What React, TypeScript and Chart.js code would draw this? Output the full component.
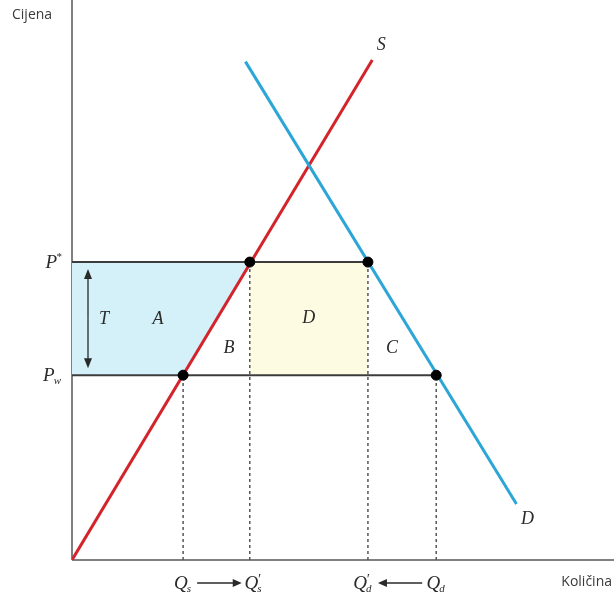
import React, { useEffect, useRef } from "react";
import { Chart, registerables } from "chart.js";

Chart.register(...registerables);

// ---- data (economic units) ----
const xMax = 100;
const yMax = 100;
const supplyX = [0, 55.4];
const supplyY = [0, 89.3];
const demandX = [32, 82];
const demandY = [89, 10];
const pStar = 53.2;
const pWorld = 33;
const qS = 20.5;
const qSPrime = 32.8;
const qDPrime = 54.6;
const qD = 67.2;
const axisTitleY = "Cijena";
const axisTitleX = "Količina";
const areaLabels = ["A", "B", "D", "C"];

const RED = "#d3232b";
const BLUE = "#2ba6d6";
const DARK = "#3c3c3c";
const AXIS = "#808080";

const SERIF = "'Liberation Serif', 'DejaVu Serif', serif";
const SANS = "'Open Sans', 'DejaVu Sans', sans-serif";

function drawArrow(ctx: CanvasRenderingContext2D, x1: number, y1: number, x2: number, y2: number, head = 8, headW = 4) {
  const ang = Math.atan2(y2 - y1, x2 - x1);
  ctx.beginPath();
  ctx.moveTo(x1, y1);
  ctx.lineTo(x2 - Math.cos(ang) * head * 0.6, y2 - Math.sin(ang) * head * 0.6);
  ctx.stroke();
  ctx.beginPath();
  ctx.moveTo(x2, y2);
  ctx.lineTo(x2 - Math.cos(ang) * head + Math.sin(ang) * headW, y2 - Math.sin(ang) * head - Math.cos(ang) * headW);
  ctx.lineTo(x2 - Math.cos(ang) * head - Math.sin(ang) * headW, y2 - Math.sin(ang) * head + Math.cos(ang) * headW);
  ctx.closePath();
  ctx.fill();
}

function drawSym(ctx: CanvasRenderingContext2D, base: string, sub: string, sup: string, cx: number, cy: number, align: "center" | "right" = "center") {
  ctx.save();
  ctx.textBaseline = "alphabetic";
  ctx.textAlign = "left";
  const bigFont = `italic 19px ${SERIF}`;
  const smallFont = `italic 11px ${SERIF}`;
  const supFont = `italic 14px ${SERIF}`;
  ctx.font = bigFont;
  const wb = ctx.measureText(base).width;
  ctx.font = smallFont;
  const ws = Math.max(sub ? ctx.measureText(sub).width : 0, sup ? 5 : 0);
  const total = wb + ws;
  const x0 = align === "center" ? cx - total / 2 : cx - total;
  const baseY = cy + 6;
  ctx.font = bigFont;
  ctx.fillText(base, x0, baseY);
  ctx.font = smallFont;
  if (sub) ctx.fillText(sub, x0 + wb - 1, baseY + 3);
  if (sup) {
    ctx.font = sup === "*" ? smallFont : supFont;
    ctx.fillText(sup === "'" ? "\u2032" : sup, x0 + wb - 1, sup === "*" ? baseY - 8 : baseY - 5);
  }
  ctx.restore();
}

const annotations = {
  id: "annotations",
  afterDraw(chart: any) {
    const ctx: CanvasRenderingContext2D = chart.ctx;
    const xs = chart.scales.x;
    const ys = chart.scales.y;
    const px = (v: number) => xs.getPixelForValue(v);
    const py = (v: number) => ys.getPixelForValue(v);
    const x0 = px(0);
    const y0 = py(0);
    const yTop = py(pStar);
    const yW = py(pWorld);
    const yMid = (yTop + yW) / 2;

    ctx.save();
    ctx.strokeStyle = "#2a2a2a";

    // axis titles
    ctx.font = `14px ${SANS}`;
    ctx.textBaseline = "middle";
    ctx.textAlign = "left";
    ctx.fillStyle = "#3a3a3a";
    ctx.fillText(axisTitleY, 12, 15);
    ctx.textAlign = "right";
    ctx.fillText(axisTitleX, 612, y0 + 22);

    ctx.fillStyle = "#2a2a2a";
    // price labels
    drawSym(ctx, "P", "", "*", x0 - 10, yTop, "right");
    drawSym(ctx, "P", "w", "", x0 - 10, yW, "right");

    // quantity labels
    const ly = y0 + 23;
    drawSym(ctx, "Q", "s", "", px(qS), ly);
    drawSym(ctx, "Q", "s", "'", px(qSPrime) + 4, ly);
    drawSym(ctx, "Q", "d", "'", px(qDPrime) - 5, ly);
    drawSym(ctx, "Q", "d", "", px(qD), ly);
    ctx.lineWidth = 1.5;
    drawArrow(ctx, px(qS) + 14, ly, px(qSPrime) - 8, ly, 9, 4);
    drawArrow(ctx, px(qD) - 14, ly, px(qDPrime) + 10, ly, 9, 4);

    // tariff arrow T
    ctx.lineWidth = 1.3;
    const tx = x0 + 16;
    drawArrow(ctx, tx, yMid, tx, yTop + 7, 10, 4);
    drawArrow(ctx, tx, yMid, tx, yW - 7, 10, 4);

    ctx.font = `italic 18px ${SERIF}`;
    ctx.textAlign = "center";
    ctx.textBaseline = "middle";
    ctx.fillText("T", x0 + 32, yMid + 1);
    ctx.fillText(areaLabels[0], px(qS) - 25, yMid + 1);
    ctx.fillText(areaLabels[1], px(qS) + 46, yW - 27);
    ctx.fillText(areaLabels[2], (px(qSPrime) + px(qDPrime)) / 2, yMid);
    ctx.fillText(areaLabels[3], px(qDPrime) + 24, yW - 27);

    // curve labels
    ctx.fillText("S", px(supplyX[1]) + 9, py(supplyY[1]) - 15);
    ctx.fillText("D", px(demandX[1]) + 11, py(demandY[1]) + 15);
    ctx.restore();
  },
};

const line = (data: { x: number; y: number }[], color: string, width: number, extra: any = {}) => ({
  type: "line" as const,
  data,
  borderColor: color,
  borderWidth: width,
  pointRadius: 0,
  fill: false,
  tension: 0,
  ...extra,
});

export default function App() {
  const ref = useRef<HTMLCanvasElement | null>(null);

  useEffect(() => {
    if (!ref.current) return;
    const pts = [
      { x: qS, y: pWorld },
      { x: qSPrime, y: pStar },
      { x: qDPrime, y: pStar },
      { x: qD, y: pWorld },
    ];
    const dashed = pts.map((p) =>
      line([{ x: p.x, y: 0 }, { x: p.x, y: p.y }], "#555555", 1.5, { borderDash: [3, 3] })
    );
    const chart = new Chart(ref.current, {
      type: "line",
      data: {
        datasets: [
          {
            type: "scatter" as const,
            data: pts,
            pointRadius: 5,
            pointBackgroundColor: "#000000",
            pointBorderColor: "#000000",
            showLine: false,
          } as any,
          line(demandX.map((x, i) => ({ x, y: demandY[i] })), BLUE, 3),
          line(supplyX.map((x, i) => ({ x, y: supplyY[i] })), RED, 3),
          line([{ x: 0, y: pStar }, { x: qDPrime, y: pStar }], DARK, 2),
          line([{ x: 0, y: pWorld }, { x: qD, y: pWorld }], DARK, 2),
          ...dashed,
          line(
            [
              { x: 0, y: pWorld },
              { x: qS, y: pWorld },
              { x: qSPrime, y: pStar },
              { x: 0, y: pStar },
              { x: 0, y: pWorld },
            ],
            "rgba(0,0,0,0)",
            0,
            { fill: "shape", backgroundColor: "#d4f0f9" }
          ),
          line(
            [
              { x: qSPrime, y: pWorld },
              { x: qDPrime, y: pWorld },
              { x: qDPrime, y: pStar },
              { x: qSPrime, y: pStar },
              { x: qSPrime, y: pWorld },
            ],
            "rgba(0,0,0,0)",
            0,
            { fill: "shape", backgroundColor: "#fdfbe2" }
          ),
          line([{ x: 0, y: 0 }, { x: 0, y: yMax }], AXIS, 2, { clip: false }),
          line([{ x: 0, y: 0 }, { x: xMax, y: 0 }], AXIS, 2, { clip: false }),
        ] as any,
      },
      options: {
        responsive: false,
        animation: false,
        layout: { autoPadding: false, padding: { left: 72, right: 0, top: 0, bottom: 41 } },
        scales: {
          x: { type: "linear", min: 0, max: xMax, display: false },
          y: { type: "linear", min: 0, max: yMax, display: false },
        },
        plugins: {
          legend: { display: false },
          tooltip: { enabled: false },
        },
      },
      plugins: [annotations],
    });
    return () => chart.destroy();
  }, []);

  return (
    <div style={{ position: "absolute", left: 0, top: 0, width: 614, height: 601, background: "#fff" }}>
      <canvas ref={ref} width={614} height={601} />
    </div>
  );
}
